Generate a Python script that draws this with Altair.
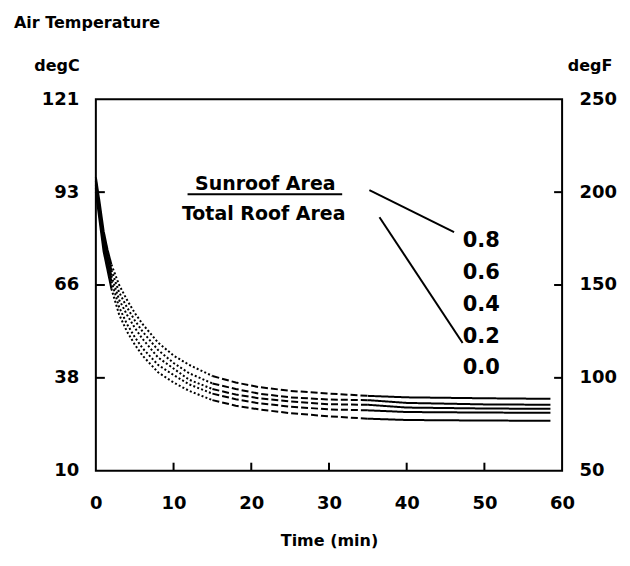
import altair as alt
import pandas as pd

# ---------------- data ----------------
time_min = [0, 0.5, 1, 1.5, 2, 3, 4, 5, 6, 8, 10, 12, 15, 18, 21, 25, 30, 35, 40, 50, 58.5]
ratios = ["0.8", "0.6", "0.4", "0.2", "0.0"]
# air temperature, degF
temp_08 = [208, 194, 179, 169, 161, 150, 142, 135, 129, 119, 112, 107, 101, 97.5, 95, 93, 91.5, 90.3, 89.5, 89, 88.7]
temp_06 = [206, 191, 176, 166, 158, 146, 138, 131, 125, 115, 108, 102.5, 97, 94, 91.5, 89.5, 88.3, 88, 86.5, 85.7, 85.5]
temp_04 = [204, 189, 174, 163, 155, 142, 134, 127, 121, 111, 105, 99, 94, 91, 89, 87.3, 85.8, 85.5, 84, 83.5, 83.3]
temp_02 = [202, 187, 171, 161, 152, 138, 129, 122, 116, 107, 101.5, 96.5, 91.5, 88.5, 86.3, 84.5, 83, 82.5, 81.6, 81.3, 81.2]
temp_00 = [200, 184, 168, 158, 148, 134, 125, 118, 112, 103, 97.5, 93, 88, 85, 83, 81, 79.3, 78, 77.3, 77, 76.9]
series = [temp_08, temp_06, temp_04, temp_02, temp_00]

# line-style pieces along the time axis (style, start, end)
pieces = [("solid", 0, 2), ("dotted", 2, 15), ("dashed", 15, 35), ("solid", 35, 58.5)]

x_ticks = [0, 10, 20, 30, 40, 50, 60]
y_ticks_f = [50, 100, 150, 200, 250]
inner_x_ticks = [10, 20, 30, 40, 50]
inner_y_ticks = [100, 150, 200]

# annotation text (time, degF)
note_text = ["Sunroof Area", "Total Roof Area"]
note_t = [21.8, 21.6]
note_f = [204.5, 188.0]
ratio_label_t = [47.2, 47.2, 47.2, 47.2, 47.2]
ratio_label_f = [173.6, 156.4, 139.2, 122.0, 105.4]
underline = {"time": [11.8], "t2": [31.7], "f": [198.9]}
leader_t = [35.2, 36.5]
leader_f = [201.1, 186.5]
leader_t2 = [46.1, 47.2]
leader_f2 = [178.5, 118.8]

# ---------------- build tables ----------------
rows = []
for r, vals in zip(ratios, series):
    for k, (style, a, b) in enumerate(pieces):
        for t, v in zip(time_min, vals):
            if a <= t <= b:
                rows.append({"time": t, "temp": v, "ratio": r, "style": style, "key": f"{r}-{k}"})
lines_df = pd.DataFrame(rows)

FONT = "DejaVu Sans"
W, H = 467, 372
xscale = alt.Scale(domain=[0, 60], nice=False, zero=False)
yscale = alt.Scale(domain=[50, 250], nice=False, zero=False)
xaxis = alt.Axis(
    values=x_ticks, title="Time (min)", ticks=False, domain=False, grid=False, labelFlush=False,
    labelFont=FONT, labelFontSize=18, labelFontWeight="bold", labelColor="black", labelPadding=24,
    titleFont=FONT, titleFontSize=16, titleFontWeight="bold", titleColor="black", titlePadding=20)


def X(field="time"):
    return alt.X(f"{field}:Q", scale=xscale, axis=xaxis, title="Time (min)")


lines = alt.Chart(lines_df).mark_line(color="black", strokeWidth=2, strokeCap="butt").encode(
    x=X(),
    y=alt.Y("temp:Q", scale=yscale, axis=alt.Axis(
        values=y_ticks_f, title=None, ticks=False, domain=False, grid=False, orient="left",
        labelFlush=False, labelExpr="format((datum.value-32)*5/9, '.0f')",
        labelFont=FONT, labelFontSize=18, labelFontWeight="bold", labelColor="black", labelPadding=17)),
    detail="key:N",
    strokeDash=alt.StrokeDash("style:N", scale=alt.Scale(
        domain=["solid", "dotted", "dashed"], range=[[1, 0], [2, 2.2], [7, 3]]), legend=None),
)

right_axis = alt.Chart(pd.DataFrame({"f": inner_y_ticks})).mark_rule(color="black", strokeWidth=2).encode(
    y=alt.Y("f:Q", scale=yscale, axis=alt.Axis(
        values=y_ticks_f, title=None, ticks=False, domain=False, grid=False, orient="right",
        labelFlush=False,
        labelFont=FONT, labelFontSize=18, labelFontWeight="bold", labelColor="black", labelPadding=17)),
    x=alt.value(W), x2=alt.value(W - 8),
)

left_ticks = alt.Chart(pd.DataFrame({"f": inner_y_ticks})).mark_rule(color="black", strokeWidth=2).encode(
    y=alt.Y("f:Q", scale=yscale, axis=None),
    x=alt.value(0), x2=alt.value(9),
)

bottom_ticks = alt.Chart(pd.DataFrame({"time": inner_x_ticks})).mark_rule(color="black", strokeWidth=2).encode(
    x=X(),
    y=alt.value(H), y2=alt.value(H - 8),
)

notes = alt.Chart(pd.DataFrame({"time": note_t, "f": note_f, "txt": note_text})).mark_text(
    font=FONT, fontSize=19, fontWeight="bold", color="black", align="center", baseline="middle").encode(
    x=X(),
    y=alt.Y("f:Q", scale=yscale, axis=None),
    text="txt:N",
)

ratio_labels = alt.Chart(pd.DataFrame({"time": ratio_label_t, "f": ratio_label_f, "txt": ratios})).mark_text(
    font=FONT, fontSize=21, fontWeight="bold", color="black", align="left", baseline="middle").encode(
    x=X(),
    y=alt.Y("f:Q", scale=yscale, axis=None),
    text="txt:N",
)

under = alt.Chart(pd.DataFrame(underline)).mark_rule(color="black", strokeWidth=2).encode(
    x=X(), x2="t2:Q",
    y=alt.Y("f:Q", scale=yscale, axis=None),
)

leaders = alt.Chart(pd.DataFrame({"time": leader_t, "f": leader_f, "t2": leader_t2, "f2": leader_f2})).mark_rule(
    color="black", strokeWidth=2).encode(
    x=X(), x2="t2:Q",
    y=alt.Y("f:Q", scale=yscale, axis=None), y2="f2:Q",
)


def header(txt, px, py, align):
    return alt.Chart(pd.DataFrame({"txt": [txt]})).mark_text(
        font=FONT, fontSize=16, fontWeight="bold", color="black", align=align, baseline="middle").encode(
        text="txt:N", x=alt.value(px), y=alt.value(py))


title = header("Air Temperature", -82, -76, "left")
degc = header("degC", -39, -33, "center")
degf = header("degF", W + 28, -33, "center")

chart = alt.layer(
    lines, right_axis, left_ticks, bottom_ticks, notes, ratio_labels, under, leaders, title, degc, degf
).resolve_axis(y="independent").properties(
    width=W, height=H,
    background="white",
    autosize=alt.AutoSizeParams(type="none"),
    padding={"left": 88, "top": 91, "right": 60, "bottom": 87},
).configure_view(stroke="black", strokeWidth=2)

chart.save("out.html", embed_options={"renderer": "svg", "actions": False})
